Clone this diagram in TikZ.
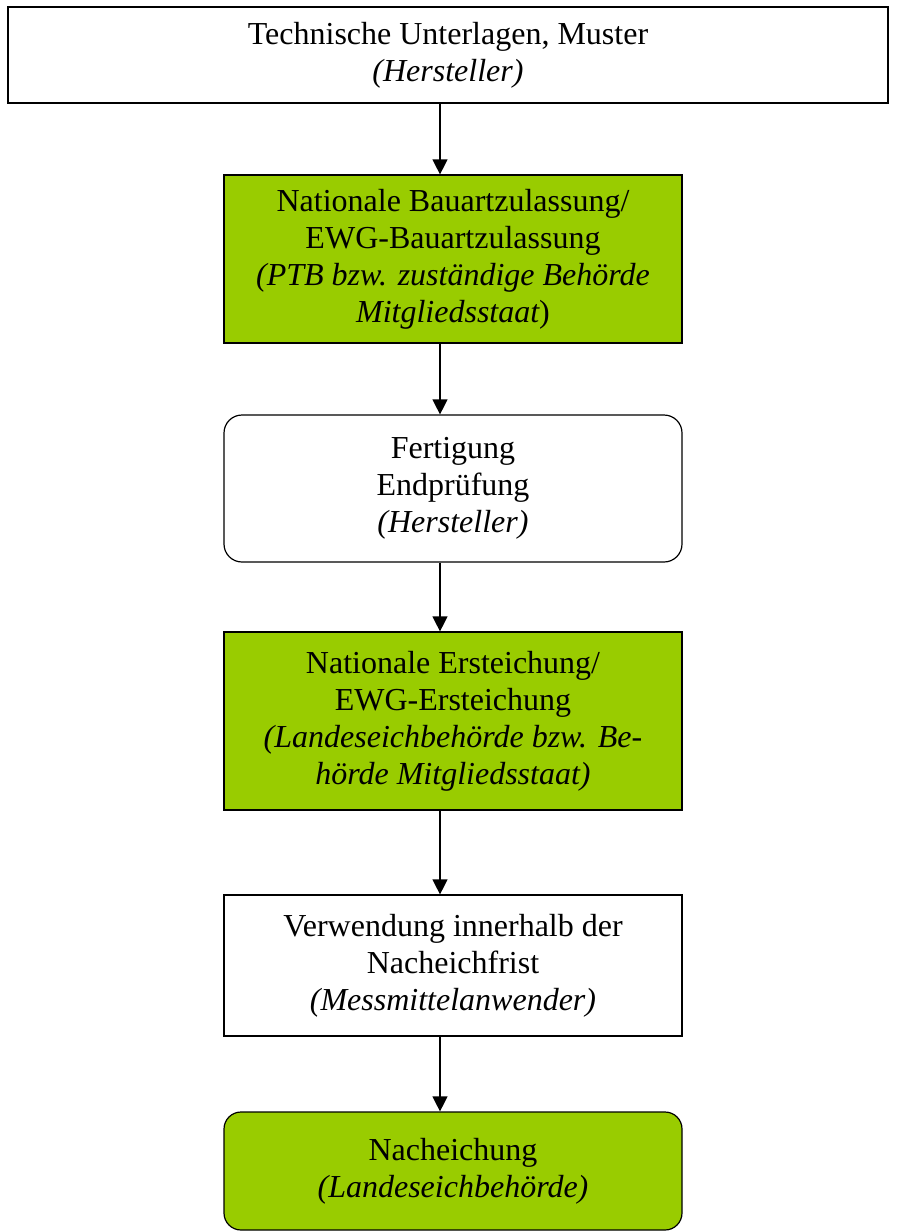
\documentclass[tikz,border=0pt]{standalone}
\usepackage{fontspec}
\setmainfont{Liberation Serif}
\usetikzlibrary{arrows.meta}
\definecolor{eichgruen}{RGB}{153,204,0}

\begin{document}
\begin{tikzpicture}[x=0.5pt, y=-0.5pt, every node/.style={font=\fontsize{16}{18.5}\selectfont}, >={Triangle[length=7.5pt,width=7.5pt]}, kasten/.style={draw, line width=0.6pt, align=center, inner sep=0pt, minimum width=229pt}]
	\useasboundingbox (0,0) rectangle (896,1232);
	\node[kasten, minimum width=440pt, minimum height=48pt] (k1) at (448,55) {Technische Unterlagen, Muster\\{\itshape (Hersteller)}};
	\node[kasten, fill=eichgruen, minimum height=84pt] (k2) at (453,259) {Nationale Bauartzulassung/\\EWG-Bauartzulassung\\{\itshape (PTB bzw. zuständige Behörde}\\{\itshape Mitgliedsstaat})};
	\node[kasten, rounded corners=9pt, minimum height=73.5pt] (k3) at (453,488.5) {Fertigung\\Endprüfung\\{\itshape (Hersteller)}};
	\node[kasten, fill=eichgruen, minimum height=89pt] (k4) at (453,721) {Nationale Ersteichung/\\EWG-Ersteichung\\{\itshape (Landeseichbehörde bzw. Be-}\\{\itshape hörde Mitgliedsstaat)}};
	\node[kasten, minimum height=70.5pt] (k5) at (453,965.5) {Verwendung innerhalb der\\Nacheichfrist\\{\itshape (Messmittelanwender)}};
	\node[kasten, fill=eichgruen, rounded corners=8.5pt, minimum height=59pt] (k6) at (453,1171) {Nacheichung\\{\itshape (Landeseichbehörde)}};
	\coordinate (ax) at (440,0);
	\foreach \a/\b in {k1/k2, k2/k3, k3/k4, k4/k5, k5/k6} {\draw[->, line width=0.6pt] (\a.south -| ax) -- (\b.north -| ax);}
\end{tikzpicture}
\end{document}
